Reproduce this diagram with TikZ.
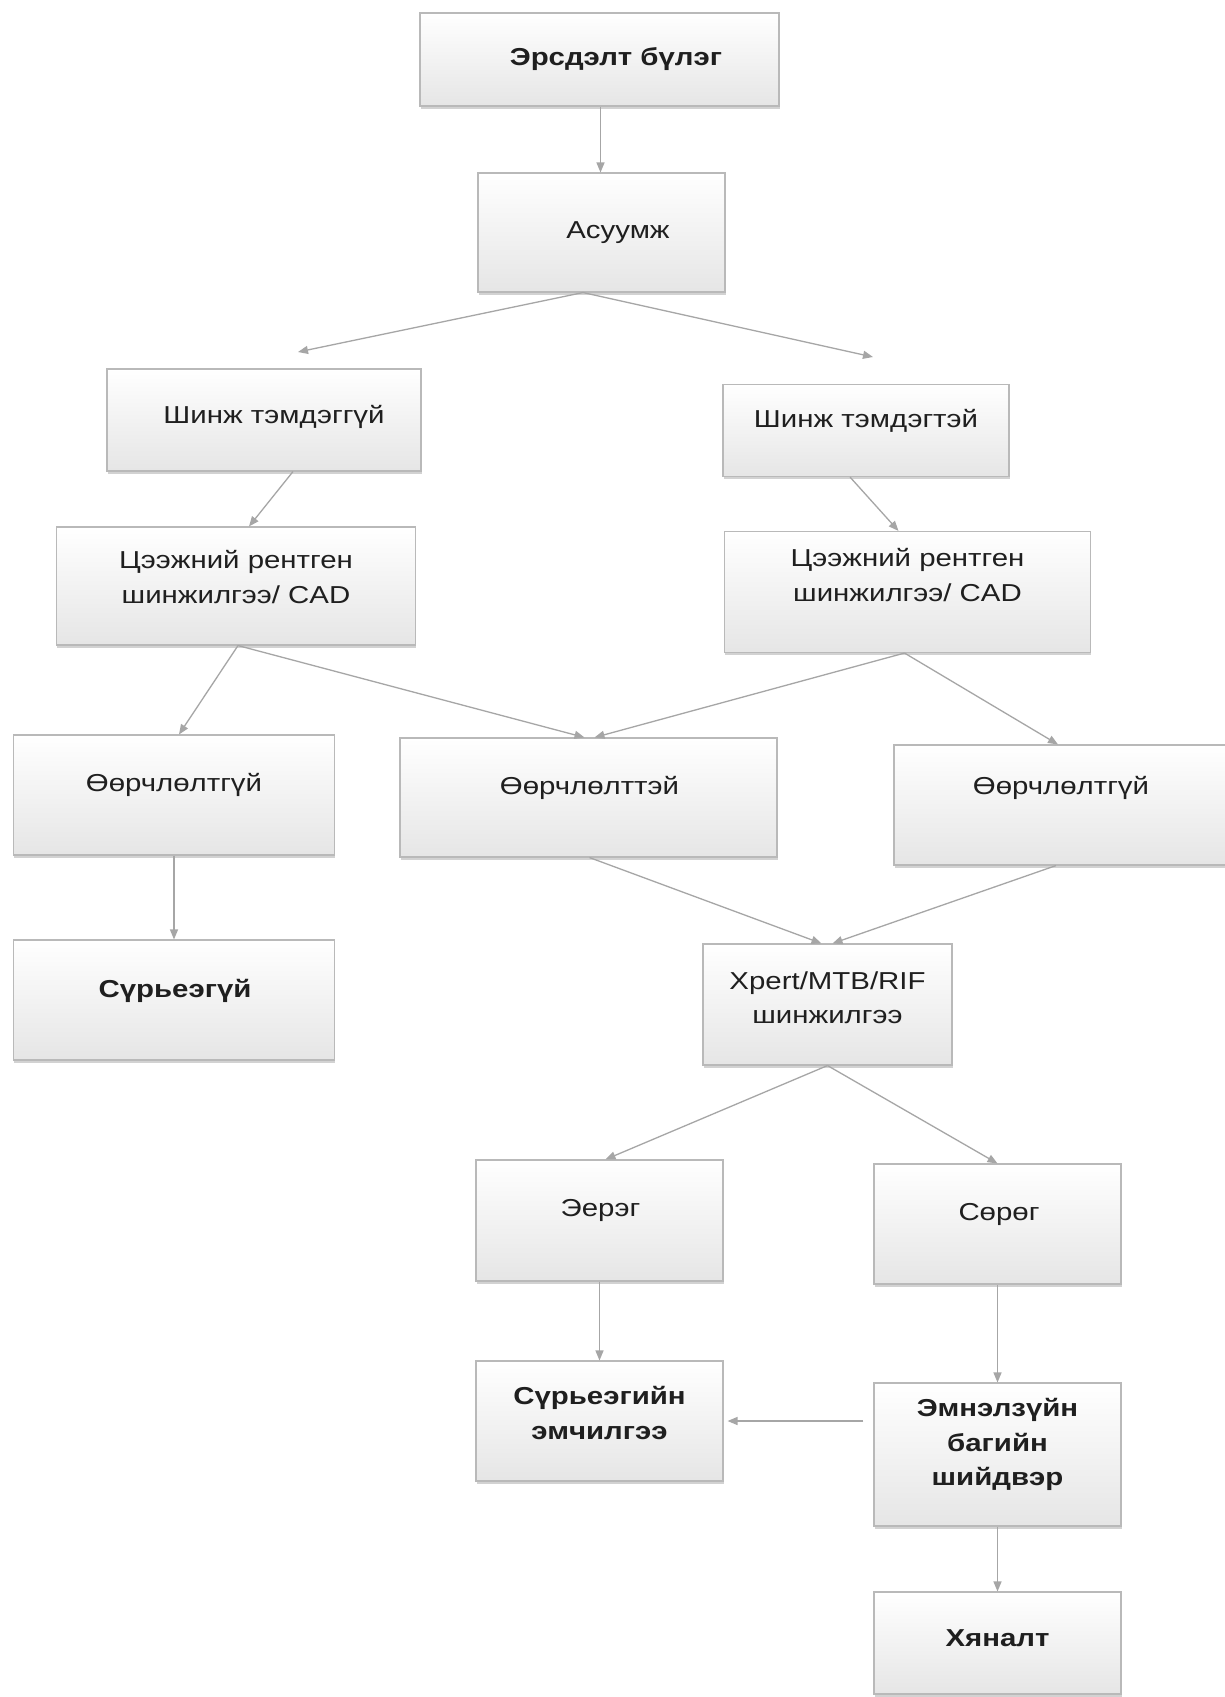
\documentclass[tikz,border=0pt]{standalone}
\usepackage{fontspec}
\setmainfont{Liberation Sans}[FakeStretch=1.2]
\usetikzlibrary{arrows.meta,shadows,calc}
\begin{document}
\begin{tikzpicture}[x=1pt,y=-1pt,
  box/.style={draw=gray!55, line width=1.1pt, top color=white, bottom color=gray!20,
    drop shadow={shadow xshift=0.8pt,shadow yshift=-2.5pt,opacity=0.35,fill=gray},
    inner sep=0pt},
  txt/.style={align=center, font=\fontsize{24.5}{34.5}\selectfont, text=black!88, inner sep=0pt},
  btxt/.style={txt, font=\fontsize{24.5}{34.5}\selectfont\bfseries},
  arr/.style={draw=gray!70, line width=1.3pt, -{Triangle[length=10pt,width=8pt]}}
]
\useasboundingbox[fill=white] (0,0) rectangle (1224,1697);

% boxes
\node[box, minimum width=359, minimum height=93]  (n1)  at (599.5,59.5) {};
\node[box, minimum width=247, minimum height=119] (n2)  at (601.5,232.5) {};
\node[box, minimum width=314, minimum height=102] (n3)  at (264,420) {};
\node[box, minimum width=286, minimum height=92]  (n4)  at (866,430.5) {};
\node[box, minimum width=359, minimum height=118] (n5)  at (236,586) {};
\node[box, minimum width=366, minimum height=121] (n6)  at (907.5,592) {};
\node[box, minimum width=321, minimum height=120] (n7)  at (174,795) {};
\node[box, minimum width=377, minimum height=119] (n8)  at (588.5,797.5) {};
\node[box, minimum width=338, minimum height=120] (n9)  at (1063,805) {};
\node[box, minimum width=321, minimum height=120] (n10) at (174,1000) {};
\node[box, minimum width=249, minimum height=121] (n11) at (827.5,1004.5) {};
\node[box, minimum width=247, minimum height=121] (n12) at (599.5,1220.5) {};
\node[box, minimum width=247, minimum height=120] (n13) at (997.5,1224) {};
\node[box, minimum width=247, minimum height=120] (n14) at (599.5,1421) {};
\node[box, minimum width=247, minimum height=143] (n15) at (997.5,1454.5) {};
\node[box, minimum width=247, minimum height=102] (n16) at (997.5,1643) {};

% texts
\node[btxt] (t1)  at (616,59.5)    {Эрсдэлт бүлэг};
\node[txt]  (t2)  at (618,232.5)   {Асуумж};
\node[txt]  (t3)  at (274,417)     {Шинж тэмдэггүй};
\node[txt]  (t4)  at (866,420.5)   {Шинж тэмдэгтэй};
\node[txt]  (t5)  at (236,577)     {Цээжний рентген\\шинжилгээ/ CAD};
\node[txt]  (t6)  at (907.5,575)   {Цээжний рентген\\шинжилгээ/ CAD};
\node[txt]  (t7)  at (174,785)     {Өөрчлөлтгүй};
\node[txt]  (t8)  at (589.5,787.5) {Өөрчлөлттэй};
\node[txt]  (t9)  at (1061,788)    {Өөрчлөлтгүй};
\node[btxt] (t10) at (175,991)     {Сүрьеэгүй};
\node[txt]  (t11) at (827.5,997.5) {Xpert/MTB/RIF\\шинжилгээ};
\node[txt]  (t12) at (600.5,1210.5){Эерэг};
\node[txt]  (t13) at (999,1214)    {Сөрөг};
\node[btxt] (t14) at (599.5,1413)  {Сүрьеэгийн\\эмчилгээ};
\node[btxt] (t15) at (997.5,1444.5){Эмнэлзүйн\\багийн\\шийдвэр};
\node[btxt] (t16) at (997.5,1638)  {Хяналт};

% free ends
\coordinate (aL) at (298,352);
\coordinate (aR) at (873,357);

% connectors
\draw[arr] ([xshift=1]n1.south) -- ([xshift=-1]n2.north);
\draw[arr] ([xshift=-18.5]n2.south) -- (aL);
\draw[arr] ([xshift=-18.5]n2.south) -- (aR);
\draw[arr] ([xshift=29]n3.south) -- ([xshift=13]n5.north);
\draw[arr] ([xshift=-16]n4.south) -- ([xshift=-9]n6.north);
\draw[arr] ([xshift=2]n5.south) -- ([xshift=5]n7.north);
\draw[arr] ([xshift=2]n5.south) -- ([xshift=-4]n8.north);
\draw[arr] ([xshift=-3]n6.south) -- ([xshift=6]n8.north);
\draw[arr] ([xshift=-3]n6.south) -- ([xshift=-5]n9.north);
\draw[arr] (n7.south) -- (n10.north);
\draw[arr] ([xshift=1]n8.south) -- ([xshift=-6]n11.north);
\draw[arr] ([xshift=-7]n9.south) -- ([xshift=5]n11.north);
\draw[arr] (n11.south) -- ([xshift=6]n12.north);
\draw[arr] (n11.south) -- (n13.north);
\draw[arr] (n12.south) -- (n14.north);
\draw[arr] (n13.south) -- (n15.north);
\draw[arr] ([xshift=-10]n15.west |- n14.east) -- ([xshift=4]n14.east);
\draw[arr] (n15.south) -- (n16.north);
\end{tikzpicture}
\end{document}
